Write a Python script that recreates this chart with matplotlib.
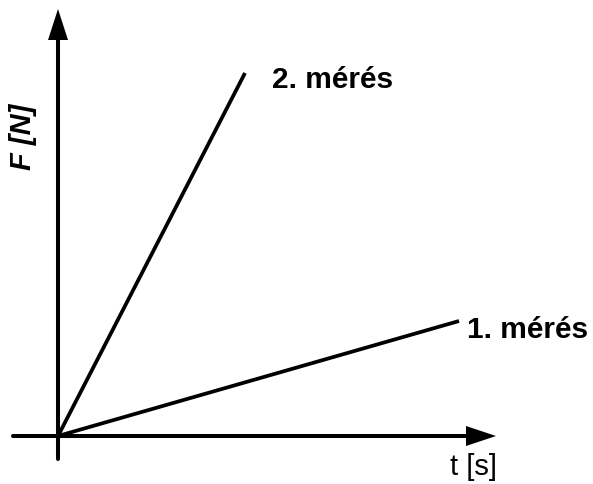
import matplotlib
matplotlib.use('Agg')
import matplotlib.pyplot as plt

# adatok (önkényes egységek, origó = (0, 0))
t_1 = [0, 401]
F_1 = [0, 115]
t_2 = [0, 187]
F_2 = [0, 363]
cimkek = ['1. mérés', '2. mérés']
x_felirat = 't [s]'
y_felirat = 'F [N]'

plt.rcParams['font.family'] = ['Liberation Sans', 'DejaVu Sans']

fig = plt.figure(figsize=(5.93, 4.85), dpi=100)
ax = fig.add_axes([0, 0, 1, 1])
ax.set_xlim(-58, 535)
ax.set_ylim(-48, 437)
ax.axis('off')

lw = 2.9
# tengelyek
ax.plot([-45, 410], [0, 0], c='black', lw=lw, solid_capstyle='round')
ax.plot([0, 0], [-23, 398], c='black', lw=lw, solid_capstyle='round')
ax.fill([408, 408, 438], [-10, 10, 0], c='black', lw=0)
ax.fill([-10, 10, 0], [396, 396, 427], c='black', lw=0)

# mérések
ax.plot(t_1, F_1, c='black', lw=2.7, solid_capstyle='butt')
ax.plot(t_2, F_2, c='black', lw=2.7, solid_capstyle='butt')

ax.text(t_1[-1] + 8, F_1[-1] - 8, cimkek[0], fontsize=21.5, fontweight='bold',
        ha='left', va='center')
ax.text(t_2[-1] + 27, F_2[-1] - 6, cimkek[1], fontsize=21.5, fontweight='bold',
        ha='left', va='center')
ax.text(439, -30, x_felirat, fontsize=21, ha='right', va='center')
ax.text(-21, 300, y_felirat, fontsize=21, fontweight='bold', style='italic',
        rotation=90, ha='right', va='center')

fig.savefig('out.png', dpi=100)
